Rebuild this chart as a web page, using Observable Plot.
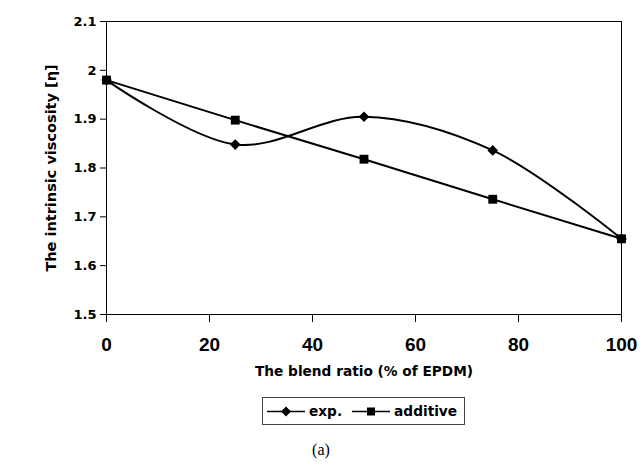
<!DOCTYPE html>
<html>
<head>
<meta charset="utf-8">
<script src="https://cdn.jsdelivr.net/npm/d3@7"></script>
<script src="https://cdn.jsdelivr.net/npm/@observablehq/plot@0.6"></script>
<style>
  body { margin: 0; background: #fff; }
  #wrap { position: relative; width: 642px; height: 472px; overflow: hidden; }
  #chart { position: absolute; left: 0; top: 0; }
  #legend {
    position: absolute; left: 262px; top: 397px; width: 203px; height: 28px;
    box-sizing: border-box; border: 1px solid #444;
    display: flex; align-items: center; padding-left: 4px;
    font-family: "DejaVu Sans", sans-serif; font-weight: bold; font-size: 13.7px; color: #000;
  }
  #legend .item { display: flex; align-items: center; margin-right: 10px; }
  #legend svg { margin-right: 4px; }
  #caption {
    position: absolute; left: 0; width: 642px; top: 441px; text-align: center;
    font-family: "Liberation Serif", "DejaVu Serif", serif; font-size: 16px; color: #000;
  }
</style>
</head>
<body>
<div id="wrap">
  <div id="chart"></div>
  <div id="legend"></div>
  <div id="caption">(a)</div>
</div>
<script>
// Blend ratio (% EPDM) and intrinsic viscosity values
const blendRatio = [0, 25, 50, 75, 100];
const expValues = [1.980, 1.848, 1.905, 1.836, 1.655];
const additiveValues = [1.980, 1.898, 1.818, 1.736, 1.655];
const xTicks = [0, 20, 40, 60, 80, 100];
const yTicks = [1.5, 1.6, 1.7, 1.8, 1.9, 2.0, 2.1];

const expData = blendRatio.map((x, i) => ({x, y: expValues[i]}));
const addData = blendRatio.map((x, i) => ({x, y: additiveValues[i]}));

const fmt = d => String(+d.toFixed(1));

const chart = Plot.plot({
  width: 642,
  height: 392,
  marginTop: 21,
  marginRight: 21,
  marginBottom: 78,
  marginLeft: 106,
  style: {fontFamily: "'DejaVu Sans', sans-serif", color: "#000", background: "#fff"},
  x: {domain: [0, 100]},
  y: {domain: [1.5, 2.1]},
  marks: [
    Plot.frame({stroke: "#000", strokeWidth: 1}),
    Plot.axisY(yTicks, {
      tickFormat: fmt, tickSize: 6, tickPadding: 4,
      label: "The intrinsic viscosity [η]", labelAnchor: "center", labelArrow: "none",
      labelOffset: 61
    }),
    Plot.axisX(xTicks, {
      tickSize: 8, tickPadding: 15,
      label: "The blend ratio (% of EPDM)", labelAnchor: "center", labelArrow: "none",
      labelOffset: 61
    }),
    Plot.line(addData, {x: "x", y: "y", stroke: "#000", strokeWidth: 2}),
    Plot.line(expData, {x: "x", y: "y", stroke: "#000", strokeWidth: 2, curve: "catmull-rom"}),
    Plot.dot(addData, {x: "x", y: "y", symbol: "square", r: 5, fill: "#000", stroke: "none"}),
    Plot.dot(expData, {x: "x", y: "y", symbol: "diamond2", r: 4.8, fill: "#000", stroke: "none"})
  ]
});

// Typography for the axis texts
const setText = (sel, family, size) => chart.querySelectorAll(sel).forEach(t => {
  t.setAttribute("font-family", family);
  t.setAttribute("font-size", size);
  t.setAttribute("font-weight", "bold");
});
setText('g[aria-label="y-axis tick label"] text', "'DejaVu Sans', sans-serif", 13);
setText('g[aria-label="y-axis label"] text', "'DejaVu Sans', sans-serif", 14.5);
setText('g[aria-label="x-axis tick label"] text', "'Liberation Sans', Arial, sans-serif", 19);
setText('g[aria-label="x-axis label"] text', "'DejaVu Sans', sans-serif", 13.7);
document.getElementById("chart").append(chart);

// Legend entries
const legendItems = [
  {label: "exp.", shape: "diamond"},
  {label: "additive", shape: "square"}
];
const legend = document.getElementById("legend");
for (const item of legendItems) {
  const div = document.createElement("div");
  div.className = "item";
  const marker = item.shape === "diamond"
    ? '<path d="M19 1.5 L24 6.5 L19 11.5 L14 6.5 Z" fill="#000"/>'
    : '<rect x="15" y="2.5" width="8" height="8" fill="#000"/>';
  div.innerHTML = `<svg width="38" height="13"><line x1="0" y1="6.5" x2="38" y2="6.5" stroke="#000" stroke-width="1.6"/>${marker}</svg><span>${item.label}</span>`;
  legend.append(div);
}
</script>
</body>
</html>
